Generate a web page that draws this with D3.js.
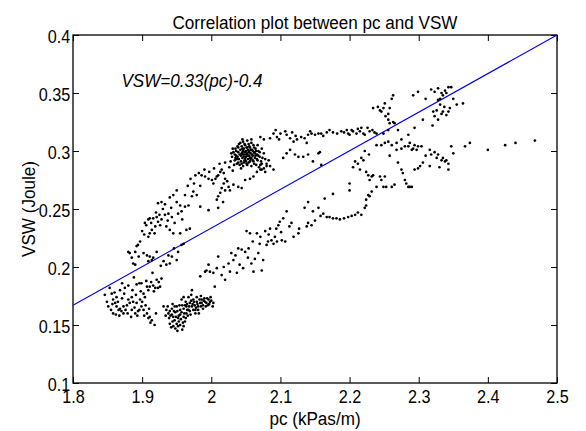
<!DOCTYPE html>
<html>
<head>
<meta charset="utf-8">
<script src="https://cdn.jsdelivr.net/npm/d3@7"></script>
<style>
  html, body { margin: 0; padding: 0; background: #fff; }
  svg { display: block; font-family: "Liberation Sans", Arial, Helvetica, sans-serif; }
  .tick text { font-size: 18px; fill: #000; }
  .tick line { stroke: #000; stroke-width: 1; }
  .lbl { font-size: 19px; fill: #000; }
</style>
</head>
<body>
<svg id="chart" width="586" height="431"></svg>
<script>
// pc vs VSW scatter with fitted line (MATLAB-style axes, ticks inward on all sides)

var xTicks = [1.8, 1.9, 2.0, 2.1, 2.2, 2.3, 2.4, 2.5];
var xTickLabels = ['1.8', '1.9', '2', '2.1', '2.2', '2.3', '2.4', '2.5'];
var yTicks = [0.1, 0.15, 0.2, 0.25, 0.3, 0.35, 0.4];
var yTickLabels = ['0.1', '0.15', '0.2', '0.25', '0.3', '0.35', '0.4'];

var fitLine = [[1.8, 0.167], [2.5, 0.4]];
var fitText = 'VSW=0.33(pc)-0.4';
var fitTextAt = [1.87, 0.3555];

// lower-left scatter, below the line
var lowerLeft = [
  [1.853,0.182],[1.856,0.177],[1.858,0.172],[1.861,0.169],[1.863,0.166],[1.866,0.163],[1.868,0.164],
  [1.873,0.166],[1.878,0.167],[1.880,0.172],[1.885,0.174],[1.887,0.170],[1.892,0.169],[1.897,0.172],
  [1.899,0.166],[1.902,0.163],[1.907,0.160],[1.911,0.157],[1.914,0.154],[1.909,0.156],[1.894,0.162],
  [1.890,0.160],[1.885,0.163],[1.873,0.160],[1.870,0.162],[1.858,0.160],[1.863,0.174],[1.868,0.180],
  [1.875,0.182],[1.892,0.185],[1.899,0.186],[1.907,0.183],[1.909,0.180],[1.911,0.183],[1.916,0.184],
  [1.919,0.182],[1.923,0.182],[1.926,0.183],[1.921,0.189],[1.904,0.174],[1.902,0.177],[1.846,0.176],
  [1.849,0.170],
  [1.851,0.166],[1.855,0.163],[1.857,0.168],[1.860,0.178],[1.862,0.159],[1.865,0.170],[1.867,0.158],
  [1.871,0.173],[1.874,0.177],[1.876,0.163],[1.879,0.160],[1.882,0.169],[1.884,0.157],[1.886,0.180],
  [1.889,0.165],[1.891,0.176],[1.893,0.158],[1.896,0.163],[1.898,0.179],[1.900,0.170],[1.903,0.158],
  [1.905,0.167],[1.906,0.188],[1.910,0.164],[1.913,0.187],[1.917,0.179],[1.920,0.160],[1.924,0.187],
  [1.928,0.190],[1.896,0.186],[1.880,0.184],[1.871,0.186],[1.888,0.191],[1.915,0.195],[1.918,0.150],
  [1.912,0.152]
];

// left rising branch, above the line
var upperLeft = [
  [1.904,0.238],[1.909,0.241],[1.911,0.242],[1.916,0.242],[1.921,0.243],[1.923,0.239],[1.928,0.241],
  [1.933,0.245],[1.938,0.246],[1.943,0.243],[1.926,0.236],[1.919,0.235],[1.914,0.232],[1.911,0.229],
  [1.909,0.226],[1.935,0.235],[1.940,0.232],[1.945,0.229],[1.952,0.246],[1.957,0.248],[1.962,0.252],
  [1.923,0.255],[1.928,0.256],[1.933,0.254],[1.955,0.229],[1.964,0.232],[1.969,0.233],[1.955,0.253],
  [1.967,0.253],[1.984,0.252],[1.996,0.249],[2.010,0.251],[2.017,0.256],
  [1.880,0.213],[1.882,0.212],[1.890,0.213],[1.892,0.218],[1.894,0.219],[1.902,0.212],[1.907,0.210],
  [1.911,0.209],[1.914,0.206],[1.909,0.205],[1.916,0.208],[1.887,0.203],[1.890,0.202],[1.931,0.205],
  [1.935,0.202],[1.940,0.203],[1.943,0.209],[1.938,0.210],[1.952,0.213],[1.957,0.219],[1.960,0.220],
  [1.945,0.262],[1.950,0.266],[1.940,0.260],[1.974,0.265],[1.979,0.262],[1.972,0.261],
  [1.977,0.279],[1.982,0.281],[1.986,0.279],[1.991,0.278],[1.996,0.276],[2.001,0.275],[2.003,0.272],
  [2.006,0.276],[2.008,0.278],[2.010,0.279],[2.013,0.282],[2.015,0.284],[2.018,0.281],[2.020,0.276],
  [2.023,0.274],[2.025,0.269],[2.020,0.266],[2.015,0.268],[2.013,0.264],[2.010,0.261],[2.008,0.258],
  [2.018,0.272],[2.027,0.266],[2.032,0.271],[2.039,0.269],[2.044,0.268],[2.049,0.275],[2.056,0.276],
  [2.061,0.278],[2.066,0.282],[2.071,0.284],[2.076,0.285],[2.080,0.287],[2.073,0.289],[2.083,0.292],
  [2.080,0.289],[2.085,0.287],[2.090,0.284],[2.073,0.284],[2.078,0.282],
  [1.897,0.222],[1.900,0.231],[1.903,0.228],[1.906,0.236],[1.913,0.238],[1.918,0.229],[1.920,0.247],
  [1.925,0.245],[1.930,0.250],[1.937,0.240],[1.942,0.251],[1.947,0.238],[1.950,0.256],[1.958,0.241],
  [1.962,0.262],[1.966,0.270],[1.970,0.276],[1.975,0.272],[1.984,0.270],[1.990,0.284],[1.997,0.282],
  [2.004,0.285],[2.012,0.289],[2.020,0.290],[1.885,0.208],[1.895,0.209],[1.921,0.213],[1.927,0.201],
  [1.946,0.216],[1.950,0.206]
];

// dense knot near pc 2.05
var upperKnot = [
  [2.030,0.295],[2.032,0.299],[2.034,0.292],[2.035,0.302],[2.036,0.296],[2.037,0.289],[2.038,0.304],
  [2.039,0.299],[2.040,0.293],[2.040,0.306],[2.041,0.288],[2.042,0.301],[2.043,0.296],[2.043,0.291],
  [2.044,0.304],[2.045,0.299],[2.045,0.294],[2.046,0.287],[2.046,0.308],[2.047,0.302],[2.048,0.297],
  [2.048,0.292],[2.049,0.305],[2.050,0.300],[2.050,0.295],[2.051,0.289],[2.052,0.303],[2.052,0.298],
  [2.053,0.293],[2.054,0.306],[2.054,0.300],[2.055,0.296],[2.056,0.291],[2.056,0.303],[2.057,0.298],
  [2.058,0.294],[2.058,0.287],[2.059,0.301],[2.060,0.296],[2.061,0.305],[2.061,0.291],[2.062,0.299],
  [2.063,0.294],[2.064,0.302],[2.065,0.288],[2.066,0.297],[2.067,0.292],[2.068,0.300],[2.069,0.286],
  [2.070,0.295],[2.044,0.298],[2.047,0.295],[2.051,0.297],[2.053,0.301],[2.049,0.293],[2.055,0.299],
  [2.041,0.297],[2.057,0.293],[2.059,0.297],[2.046,0.300],[2.038,0.295],[2.063,0.298],[2.052,0.288],
  [2.044,0.289],[2.060,0.300],[2.036,0.300],[2.072,0.291],[2.074,0.294],[2.033,0.288],[2.028,0.291],
  [2.031,0.302],[2.034,0.297],[2.037,0.293],[2.039,0.303],[2.042,0.307],[2.043,0.285],[2.045,0.302],
  [2.047,0.290],[2.048,0.306],[2.050,0.291],[2.051,0.303],[2.053,0.296],[2.054,0.290],[2.055,0.304],
  [2.057,0.301],[2.058,0.307],[2.060,0.292],[2.062,0.303],[2.064,0.296],[2.065,0.300],[2.066,0.293],
  [2.068,0.296],[2.070,0.299],[2.071,0.288],[2.039,0.290],[2.035,0.294],[2.046,0.297],[2.049,0.299],
  [2.056,0.294],[2.062,0.289],[2.058,0.310],[2.052,0.309],[2.045,0.310],[2.076,0.298],[2.078,0.293],
  [2.073,0.302],[2.029,0.298],[2.026,0.286],[2.031,0.283],[2.067,0.305]
];

// top band running right from the knot
var topBand = [
  [2.071,0.312],[2.076,0.310],[2.085,0.311],[2.090,0.315],[2.095,0.312],[2.100,0.315],[2.107,0.317],
  [2.109,0.314],[2.114,0.311],[2.119,0.308],[2.124,0.310],[2.104,0.294],[2.109,0.298],[2.114,0.301],
  [2.121,0.297],[2.126,0.295],
  [2.130,0.312],[2.135,0.311],[2.140,0.314],[2.145,0.315],[2.150,0.314],[2.155,0.315],[2.159,0.315],
  [2.167,0.316],[2.176,0.316],[2.188,0.317],[2.196,0.318],[2.198,0.315],[2.200,0.314],[2.203,0.318],
  [2.205,0.317],[2.210,0.315],[2.215,0.317],[2.217,0.320],[2.220,0.315],[2.222,0.314],[2.229,0.317],
  [2.236,0.316],[2.239,0.315],[2.133,0.295],[2.140,0.297],[2.147,0.291],[2.155,0.298],[2.157,0.299],
  [2.159,0.288],[2.138,0.307],
  [2.093,0.318],[2.098,0.310],[2.117,0.316],[2.122,0.313],[2.143,0.317],[2.162,0.313],[2.171,0.318],
  [2.182,0.315],[2.192,0.316],[2.212,0.319],[2.226,0.320],[2.233,0.318]
];

// lower knot near pc 1.96
var lowerKnot = [
  [1.935,0.163],[1.938,0.160],[1.940,0.162],[1.943,0.159],[1.945,0.157],[1.947,0.154],[1.950,0.151],
  [1.952,0.149],[1.955,0.150],[1.945,0.149],[1.940,0.151],[1.943,0.164],[1.950,0.166],[1.955,0.163],
  [1.960,0.164],[1.962,0.167],[1.964,0.166],[1.967,0.163],[1.969,0.169],[1.972,0.166],[1.974,0.163],
  [1.976,0.167],[1.979,0.170],[1.981,0.166],[1.984,0.169],[1.986,0.172],[1.988,0.167],[1.991,0.170],
  [1.993,0.169],[1.996,0.172],[1.998,0.170],[2.003,0.169],[1.964,0.160],[1.960,0.157],[1.955,0.159],
  [1.952,0.156],[1.960,0.149],[1.962,0.153],[1.969,0.162],[1.974,0.172],[1.981,0.163],[1.988,0.164],
  [1.957,0.172],[1.960,0.174],[1.967,0.174],[1.972,0.180],[1.965,0.168],[1.971,0.171],[1.978,0.165],
  [1.983,0.172],[1.990,0.173],[1.995,0.167],[1.958,0.167],[1.948,0.161],[1.944,0.153],[1.953,0.158],
  [1.966,0.158],[1.985,0.166],[1.999,0.174],[1.977,0.160],
  [1.937,0.166],[1.939,0.156],[1.941,0.158],[1.942,0.148],[1.946,0.162],[1.947,0.166],[1.949,0.157],
  [1.951,0.162],[1.953,0.153],[1.954,0.167],[1.956,0.155],[1.957,0.161],[1.959,0.152],[1.961,0.160],
  [1.963,0.170],[1.965,0.163],[1.968,0.166],[1.970,0.159],[1.973,0.168],[1.975,0.170],[1.977,0.163],
  [1.980,0.168],[1.982,0.160],[1.986,0.169],[1.989,0.171],[1.992,0.166],[1.994,0.173],[1.997,0.168],
  [2.000,0.171],[2.002,0.166],[1.948,0.147],[1.958,0.146],[1.951,0.145],[1.963,0.156],[1.971,0.176],
  [1.979,0.174],[1.944,0.168],[1.934,0.158],[1.931,0.166],[1.985,0.175]
];

// rising lower branch
var lowerRise = [
  [1.984,0.192],[1.991,0.196],[1.993,0.197],[1.996,0.202],[1.998,0.196],[2.003,0.195],[2.005,0.183],
  [2.010,0.209],[2.015,0.193],[2.020,0.189],[2.025,0.203],[2.029,0.212],[2.032,0.206],[2.037,0.195],
  [2.041,0.202],[2.044,0.215],[2.046,0.199],[2.049,0.213],[2.051,0.231],[2.054,0.216],[2.056,0.229],
  [2.058,0.203],[2.061,0.196],[2.063,0.207],[2.066,0.229],[2.068,0.212],[2.070,0.220],[2.073,0.197],
  [2.075,0.206],[2.078,0.231],[2.080,0.219],[2.082,0.222],[2.085,0.233],[2.087,0.223],[2.090,0.220],
  [2.092,0.226],[2.095,0.222],[2.097,0.236],[2.099,0.239],[2.102,0.223],[2.104,0.242],[2.107,0.222],
  [2.109,0.248],[2.116,0.238],[2.119,0.226],[2.126,0.229],[2.127,0.233],
  [2.135,0.251],[2.140,0.256],[2.147,0.248],[2.155,0.251],[2.164,0.259],[2.176,0.263],[2.162,0.246],
  [2.167,0.243],[2.171,0.243],[2.176,0.242],[2.181,0.242],[2.186,0.241],[2.198,0.243],[2.203,0.244],
  [2.208,0.245],[2.217,0.245],[2.222,0.251],[2.224,0.253],[2.227,0.262],[2.229,0.261],[2.232,0.265],
  [2.224,0.258],[2.140,0.238],[2.145,0.236],[2.138,0.235],
  [2.008,0.199],[2.018,0.200],[2.027,0.196],[2.035,0.210],[2.039,0.216],[2.053,0.208],[2.060,0.222],
  [2.071,0.226],[2.083,0.228],[2.094,0.233],[2.101,0.230],[2.113,0.235],[2.150,0.240],[2.158,0.244],
  [2.192,0.242],[2.212,0.247]
];

// right-hand loop, pc > 2.2
var rightLoop = [
  [2.249,0.315],[2.256,0.318],[2.258,0.324],[2.265,0.324],[2.263,0.325],[2.256,0.327],[2.261,0.345],
  [2.263,0.348],[2.234,0.337],[2.241,0.338],[2.244,0.335],[2.246,0.334],[2.249,0.337],[2.251,0.341],
  [2.256,0.332],[2.268,0.307],[2.275,0.310],[2.285,0.314],[2.294,0.320],[2.292,0.348],[2.299,0.351],
  [2.306,0.327],
  [2.318,0.353],[2.323,0.351],[2.328,0.354],[2.333,0.350],[2.335,0.348],[2.340,0.350],[2.343,0.355],
  [2.347,0.355],[2.328,0.344],[2.331,0.340],[2.326,0.335],[2.321,0.334],[2.323,0.330],[2.328,0.327],
  [2.333,0.332],[2.335,0.334],[2.340,0.331],[2.343,0.334],[2.345,0.337],[2.355,0.340],[2.364,0.341],
  [2.331,0.345],
  [2.239,0.305],[2.246,0.305],[2.251,0.307],[2.256,0.308],[2.261,0.305],[2.268,0.301],[2.275,0.302],
  [2.280,0.304],[2.285,0.304],[2.287,0.307],[2.290,0.301],[2.292,0.302],[2.294,0.305],[2.297,0.301],
  [2.299,0.304],[2.304,0.304],[2.316,0.301],[2.318,0.297],[2.323,0.299],[2.326,0.294],[2.328,0.297],
  [2.333,0.292],[2.335,0.294],[2.338,0.291],[2.340,0.292],[2.343,0.289],[2.347,0.304],[2.350,0.298],
  [2.367,0.304],[2.374,0.307],[2.400,0.301],[2.425,0.305],[2.440,0.307],[2.468,0.309],
  [2.205,0.286],[2.208,0.291],[2.212,0.289],[2.215,0.284],[2.217,0.294],[2.220,0.292],[2.224,0.282],
  [2.227,0.279],[2.229,0.275],[2.232,0.278],[2.234,0.279],[2.239,0.269],[2.244,0.278],[2.246,0.275],
  [2.249,0.269],[2.251,0.278],[2.253,0.269],[2.261,0.269],[2.265,0.271],[2.275,0.284],[2.277,0.281],
  [2.280,0.275],[2.282,0.272],[2.285,0.269],[2.287,0.269],[2.290,0.269],[2.294,0.284],[2.299,0.285],
  [2.302,0.287],[2.316,0.287],[2.343,0.284],[2.200,0.272],[2.200,0.266],
  [2.252,0.330],[2.258,0.337],[2.270,0.318],[2.310,0.345],[2.338,0.352],[2.350,0.345],[2.337,0.338],
  [2.320,0.322],[2.310,0.296],[2.306,0.290],[2.330,0.286],[2.258,0.296],[2.270,0.290],[2.222,0.300],
  [2.228,0.297]
];

(function () {
    var svg = d3.select('#chart');
    var W = 586, H = 431;
    var margin = { top: 35, right: 29, bottom: 48, left: 73 };
    var iw = W - margin.left - margin.right;
    var ih = H - margin.top - margin.bottom;
    var SX = 0.9;   // the source figure's text is slightly condensed

    var x = d3.scaleLinear().domain([1.8, 2.5]).range([0, iw]);
    var y = d3.scaleLinear().domain([0.1, 0.4]).range([ih, 0]);

    var g = svg.append('g')
        .attr('transform', 'translate(' + margin.left + ',' + margin.top + ')');

    // axes: ticks point inward, labels only bottom/left
    var xb = d3.axisBottom(x).tickValues(xTicks)
        .tickFormat(function (d, i) { return xTickLabels[i]; })
        .tickSizeInner(-6).tickSizeOuter(0).tickPadding(7);
    var yl = d3.axisLeft(y).tickValues(yTicks)
        .tickFormat(function (d, i) { return yTickLabels[i]; })
        .tickSizeInner(-6).tickSizeOuter(0).tickPadding(3);
    var xt = d3.axisTop(x).tickValues(xTicks).tickFormat('').tickSizeInner(-6).tickSizeOuter(0);
    var yr = d3.axisRight(y).tickValues(yTicks).tickFormat('').tickSizeInner(-6).tickSizeOuter(0);

    var gx = g.append('g').attr('transform', 'translate(0,' + ih + ')').call(xb);
    var gy = g.append('g').call(yl);
    g.append('g').call(xt);
    g.append('g').attr('transform', 'translate(' + iw + ',0)').call(yr);
    g.selectAll('.domain').remove();
    g.selectAll('.tick text').attr('font-family', null).attr('font-size', null);
    gx.selectAll('.tick text').attr('transform', 'scale(' + SX + ',1)').attr('dy', '0.7em');
    gy.selectAll('.tick text').attr('transform', 'scale(' + SX + ',1)').attr('dy', '0.4em');

    g.append('rect')
        .attr('x', 0).attr('y', 0).attr('width', iw).attr('height', ih)
        .attr('fill', 'none').attr('stroke', '#000').attr('stroke-width', 1.3);

    // fitted line
    var line = d3.line().x(function (d) { return x(d[0]); }).y(function (d) { return y(d[1]); });
    g.append('path').datum(fitLine)
        .attr('d', line).attr('fill', 'none')
        .attr('stroke', '#0000ff').attr('stroke-width', 1.1);

    // scatter
    var pts = [].concat(lowerLeft, upperLeft, upperKnot, topBand, lowerKnot, lowerRise, rightLoop);
    g.append('g').selectAll('circle').data(pts).enter().append('circle')
        .attr('cx', function (d) { return x(d[0]); })
        .attr('cy', function (d) { return y(d[1]); })
        .attr('r', 1.35).attr('fill', '#000');

    // equation
    g.append('text').attr('class', 'lbl')
        .attr('transform', 'translate(' + x(fitTextAt[0]) + ',' + y(fitTextAt[1]) + ') scale(' + SX + ',1)')
        .attr('font-style', 'italic')
        .text(fitText);

    // titles
    g.append('text').attr('class', 'lbl')
        .attr('transform', 'translate(' + (iw / 2) + ',-6) scale(' + SX + ',1)')
        .attr('text-anchor', 'middle')
        .text('Correlation plot between pc and VSW');
    g.append('text').attr('class', 'lbl')
        .attr('transform', 'translate(' + (iw / 2) + ',' + (ih + 42) + ') scale(' + SX + ',1)')
        .attr('text-anchor', 'middle')
        .text('pc (kPas/m)');
    g.append('text').attr('class', 'lbl')
        .attr('transform', 'translate(-38,' + (ih / 2) + ') rotate(-90) scale(' + SX + ',1)')
        .attr('text-anchor', 'middle')
        .text('VSW (Joule)');
})();
</script>
</body>
</html>
